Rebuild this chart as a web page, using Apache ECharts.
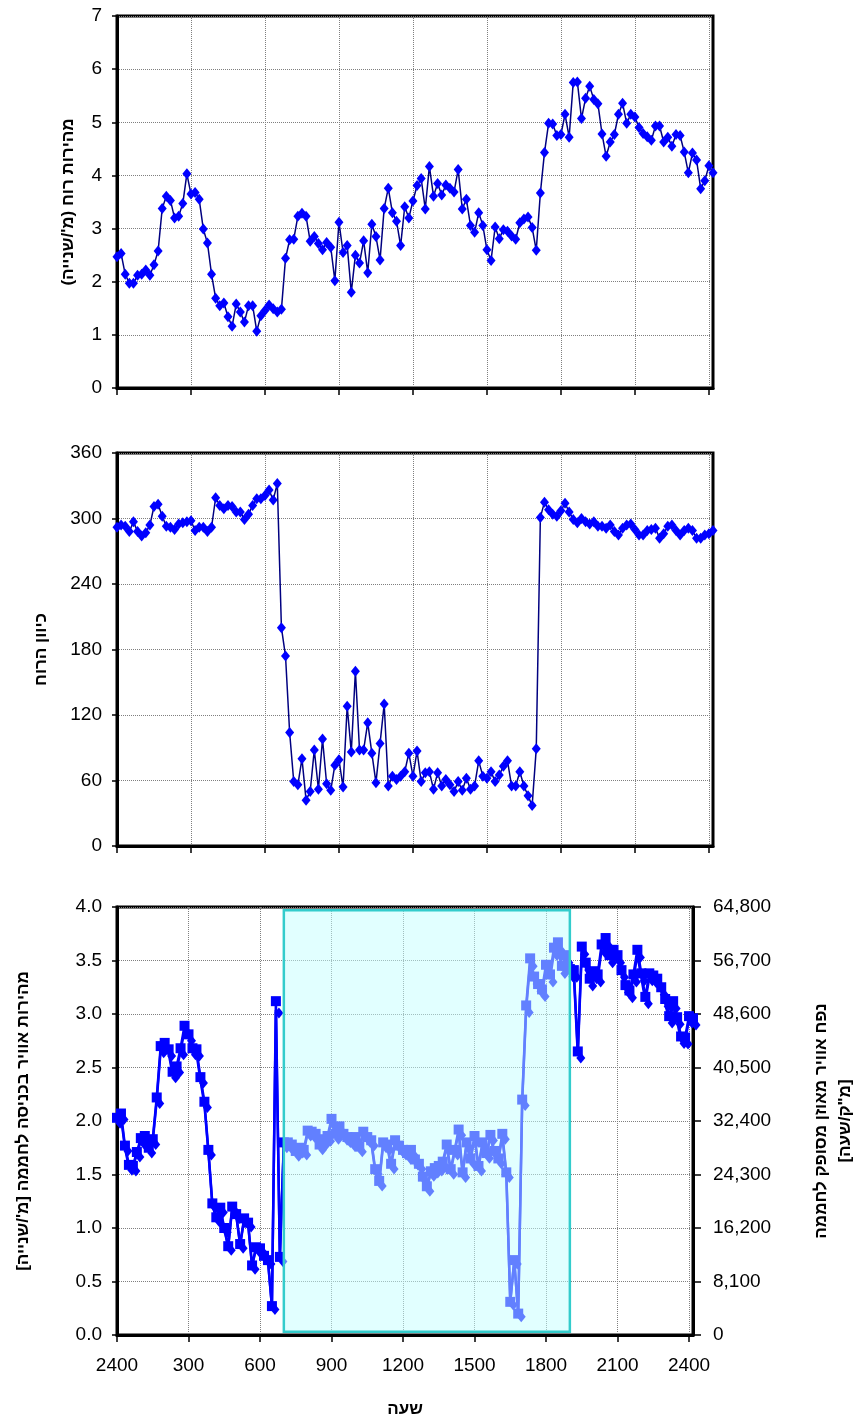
<!DOCTYPE html>
<html lang="he">
<head>
<meta charset="utf-8">
<title>רוח ואוורור החממה</title>
<script src="https://cdn.jsdelivr.net/npm/echarts@6/dist/echarts.min.js"></script>
<style>
  html, body { margin: 0; padding: 0; background: #fff; }
  #chart { width: 865px; height: 1427px; }
</style>
</head>
<body>
<div id="chart"></div>
<script>
// readings every 10 minutes, 00:00 .. 24:10 (midnight shown as 2400)
const hours = [];
for (let i = 0; i <= 145; i++) {
  const m = i * 10;
  const hhmm = Math.floor(m / 60) * 100 + (m % 60);
  hours.push(String(hhmm === 0 ? 2400 : hhmm));
}

// wind speed (m/s)
const windSpeed = [
  2.47, 2.53, 2.14, 1.97, 1.97, 2.12, 2.14, 2.22, 2.12, 2.32,
  2.58, 3.38, 3.61, 3.53, 3.20, 3.23, 3.47, 4.03, 3.65, 3.68,
  3.55, 2.99, 2.73, 2.14, 1.69, 1.55, 1.60, 1.34, 1.16, 1.58,
  1.43, 1.24, 1.55, 1.55, 1.07, 1.36, 1.46, 1.56, 1.49, 1.43,
  1.48, 2.44, 2.79, 2.80, 3.23, 3.29, 3.23, 2.76, 2.85, 2.72,
  2.60, 2.74, 2.65, 2.02, 3.12, 2.55, 2.68, 1.80, 2.50, 2.35,
  2.77, 2.17, 3.08, 2.85, 2.41, 3.38, 3.76, 3.30, 3.14, 2.68,
  3.41, 3.20, 3.52, 3.81, 3.94, 3.37, 4.17, 3.61, 3.85, 3.63,
  3.82, 3.76, 3.69, 4.11, 3.37, 3.55, 3.06, 2.93, 3.30, 3.06,
  2.60, 2.40, 3.03, 2.81, 2.98, 2.95, 2.86, 2.80, 3.11, 3.18,
  3.22, 3.02, 2.59, 3.67, 4.43, 4.98, 4.97, 4.75, 4.77, 5.15,
  4.72, 5.75, 5.76, 5.07, 5.45, 5.68, 5.43, 5.35, 4.78, 4.36,
  4.63, 4.77, 5.15, 5.36, 4.98, 5.15, 5.10, 4.90, 4.79, 4.73,
  4.66, 4.93, 4.93, 4.63, 4.72, 4.55, 4.77, 4.75, 4.44, 4.05,
  4.42, 4.29, 3.75, 3.90, 4.18, 4.05
];

// wind direction (degrees)
const windDir = [
  292, 294, 293, 288, 297, 288, 284, 287, 294, 311,
  313, 302, 293, 292, 290, 295, 296, 297, 298, 289,
  292, 292, 288, 292, 319, 312, 309, 312, 311, 306,
  306, 299, 304, 312, 318, 318, 321, 326, 317, 332,
  200, 174, 104, 59, 56, 80, 42, 50, 88, 52,
  98, 57, 51, 74, 79, 54, 128, 86, 160, 88,
  88, 113, 85, 58, 94, 130, 55, 64, 61, 64,
  68, 85, 64, 87, 59, 67, 68, 52, 67, 55,
  61, 56, 50, 59, 51, 62, 52, 55, 78, 64,
  62, 68, 59, 65, 73, 78, 55, 55, 68, 55,
  46, 37, 89, 301, 315, 308, 304, 302, 307, 314,
  306, 299, 296, 300, 297, 295, 297, 293, 293, 291,
  294, 288, 285, 291, 294, 295, 290, 285, 285, 289,
  290, 291, 282, 286, 293, 294, 289, 285, 289, 291,
  289, 282, 282, 285, 286, 289
];

// air speed at the greenhouse inlet (m/s)
const inletSpeed = [
  2.03, 2.07, 1.77, 1.59, 1.58, 1.71, 1.84, 1.86, 1.75, 1.83,
  2.22, 2.70, 2.73, 2.67, 2.46, 2.51, 2.68, 2.89, 2.81, 2.68,
  2.67, 2.41, 2.18, 1.73, 1.23, 1.10, 1.19, 1.00, 0.83, 1.20,
  1.13, 0.85, 1.09, 1.05, 0.65, 0.82, 0.81, 0.74, 0.70, 0.27,
  3.12, 0.73, 1.80, 1.80, 1.78, 1.72, 1.75, 1.73, 1.91, 1.90,
  1.88, 1.78, 1.83, 1.86, 2.02, 1.88, 1.95, 1.88, 1.85, 1.82,
  1.85, 1.76, 1.90, 1.85, 1.82, 1.55, 1.44, 1.80, 1.78, 1.60,
  1.82, 1.77, 1.73, 1.70, 1.73, 1.64, 1.60, 1.48, 1.39, 1.53,
  1.56, 1.58, 1.62, 1.78, 1.55, 1.73, 1.92, 1.52, 1.80, 1.65,
  1.86, 1.58, 1.80, 1.70, 1.87, 1.72, 1.65, 1.88, 1.52, 0.31,
  0.70, 0.20, 2.20, 3.08, 3.52, 3.35, 3.28, 3.23, 3.46, 3.37,
  3.62, 3.67, 3.45, 3.55, 3.42, 3.41, 2.65, 3.63, 3.48, 3.33,
  3.40, 3.37, 3.65, 3.71, 3.55, 3.60, 3.55, 3.41, 3.27, 3.22,
  3.37, 3.60, 3.38, 3.16, 3.38, 3.36, 3.33, 3.25, 3.14, 2.98,
  3.12, 2.97, 2.79, 2.78, 2.98, 2.96
];

// air volume supplied to the greenhouse (m3/h)
const airVolume = [
  32500, 33100, 28300, 25400, 25300, 27400, 29400, 29800, 28000, 29300,
  35500, 43200, 43700, 42700, 39400, 40200, 42900, 46200, 45000, 42900,
  42700, 38600, 34900, 27700, 19700, 17600, 19000, 16000, 13300, 19200,
  18100, 13600, 17400, 16800, 10400, 13100, 13000, 11800, 11200, 4300,
  49200, 11600, 28800, 28800, 28500, 27500, 28000, 27700, 30600, 30400,
  30100, 28500, 29300, 29800, 32300, 30100, 31200, 30100, 29600, 29100,
  29600, 28200, 30400, 29600, 29100, 24800, 23000, 28800, 28500, 25600,
  29100, 28300, 27700, 27200, 27700, 26200, 25600, 23700, 22200, 24500,
  25000, 25300, 25900, 28500, 24800, 27700, 30700, 24300, 28800, 26400,
  29800, 25300, 28800, 27200, 29900, 27500, 26400, 30100, 24300, 5000,
  11200, 3200, 35200, 49300, 56300, 53600, 52500, 51700, 55400, 53900,
  57900, 58700, 55200, 56800, 54700, 54600, 42400, 58100, 55700, 53300,
  54400, 53900, 58400, 59400, 56800, 57600, 56800, 54600, 52300, 51500,
  53900, 57600, 54100, 50600, 54100, 53800, 53300, 52000, 50200, 47700,
  49900, 47500, 44600, 44500, 47700, 47400
];

// daytime period highlighted in the lower chart
const highlightFrom = '700';
const highlightTo = '1900';

const rtl = s => '\u200F' + s + '\u200F';
const tickFont = { fontFamily: 'Liberation Sans, Arial, sans-serif', fontSize: 19, color: '#000' };
const titleFont = { fontFamily: 'Liberation Sans, Arial, sans-serif', fontSize: 17, fontWeight: 'bold', color: '#000' };
const dotted = { color: '#7f7f7f', width: 1, type: 'dotted' };
const blackLine = { color: '#000', width: 3 };

function timeAxis(gridIndex, showLabels) {
  return {
    type: 'category',
    gridIndex: gridIndex,
    data: hours,
    boundaryGap: false,
    axisLine: { lineStyle: blackLine },
    axisTick: { interval: 17, length: 7, lineStyle: { color: '#000', width: 1.5 } },
    axisLabel: Object.assign({ show: showLabels, interval: 17, margin: 21 }, tickFont),
    splitLine: { show: true, interval: 17, lineStyle: dotted }
  };
}

function valueAxis(gridIndex, min, max, step, name, gap) {
  return {
    type: 'value',
    gridIndex: gridIndex,
    min: min,
    max: max,
    interval: step,
    name: name,
    nameLocation: 'middle',
    nameRotate: 90,
    nameGap: gap,
    nameTextStyle: titleFont,
    axisLine: { show: true, lineStyle: blackLine },
    axisTick: { show: true, length: 5, lineStyle: { color: '#000', width: 1.5 } },
    axisLabel: Object.assign({ margin: 15 }, tickFont),
    splitLine: { show: true, lineStyle: dotted }
  };
}

const chart = echarts.init(document.getElementById('chart'));

const speedAxis = valueAxis(2, 0, 4, 0.5, rtl("מהירות אוויר בכניסה לחממה [מ'/שנייה]"), 85);
speedAxis.axisLabel.formatter = v => v.toFixed(1);

const volumeAxis = valueAxis(2, 0, 64800, 8100, rtl('נפח אוויר מאוזן מסופק לחממה') + '\n' + rtl('[מ"ק/שעה]'), 116);
volumeAxis.position = 'right';
volumeAxis.splitLine = { show: false };
volumeAxis.axisTick.length = 8;
volumeAxis.axisLabel.margin = 20;
volumeAxis.axisLabel.formatter = v => v.toLocaleString('en-US');
volumeAxis.nameTextStyle = Object.assign({ lineHeight: 24 }, titleFont);

const bottomAxis = timeAxis(2, true);
bottomAxis.name = 'שעה';
bottomAxis.nameLocation = 'middle';
bottomAxis.nameGap = 66;
bottomAxis.nameTextStyle = titleFont;

const gridStyle = { show: true, borderColor: '#000', borderWidth: 3, backgroundColor: 'transparent' };

chart.setOption({
  animation: false,
  backgroundColor: '#fff',
  grid: [
    Object.assign({ left: 117, top: 16, width: 596, height: 372 }, gridStyle),
    Object.assign({ left: 117, top: 453, width: 596, height: 393 }, gridStyle),
    Object.assign({ left: 117, top: 907, width: 585, height: 428 }, gridStyle)
  ],
  xAxis: [timeAxis(0, false), timeAxis(1, false), bottomAxis],
  yAxis: [
    valueAxis(0, 0, 7, 1, rtl("מהירות רוח (מ'/שנייה)"), 40),
    valueAxis(1, 0, 360, 60, rtl('כיוון הרוח'), 67),
    speedAxis,
    volumeAxis
  ],
  series: [
    {
      type: 'line', xAxisIndex: 0, yAxisIndex: 0, data: windSpeed,
      symbol: 'diamond', symbolSize: [9, 11], showAllSymbol: true,
      itemStyle: { color: '#0000FF' },
      lineStyle: { color: '#000080', width: 1.5 }
    },
    {
      type: 'line', xAxisIndex: 1, yAxisIndex: 1, data: windDir,
      symbol: 'diamond', symbolSize: [9, 11], showAllSymbol: true,
      itemStyle: { color: '#0000FF' },
      lineStyle: { color: '#000080', width: 1.5 }
    },
    {
      type: 'line', xAxisIndex: 2, yAxisIndex: 3, data: airVolume,
      symbol: 'diamond', symbolSize: [9, 11], symbolOffset: [3, 3], showAllSymbol: true,
      itemStyle: { color: '#0000FF' },
      lineStyle: { color: '#0000FF', width: 2.5 },
      z: 2
    },
    {
      type: 'line', xAxisIndex: 2, yAxisIndex: 2, data: inletSpeed,
      symbol: 'rect', symbolSize: 10, showAllSymbol: true,
      itemStyle: { color: '#0000FF' },
      lineStyle: { color: '#0000FF', width: 2.5 },
      z: 3
    },
    {
      // translucent daytime box drawn over the lower chart
      type: 'custom', xAxisIndex: 2, yAxisIndex: 2, silent: true, z: 10,
      encode: { x: [0, 1], y: [2, 3] },
      data: [[hours.indexOf(highlightFrom), hours.indexOf(highlightTo), 0.03, 3.97]],
      renderItem: function (params, api) {
        const a = api.coord([api.value(0), api.value(3)]);
        const b = api.coord([api.value(1), api.value(2)]);
        return {
          type: 'rect',
          shape: { x: a[0], y: a[1], width: b[0] - a[0], height: b[1] - a[1] },
          style: { fill: 'rgba(195,255,255,0.5)', stroke: '#33CCCC', lineWidth: 2.5 }
        };
      }
    }
  ]
});
</script>
</body>
</html>
